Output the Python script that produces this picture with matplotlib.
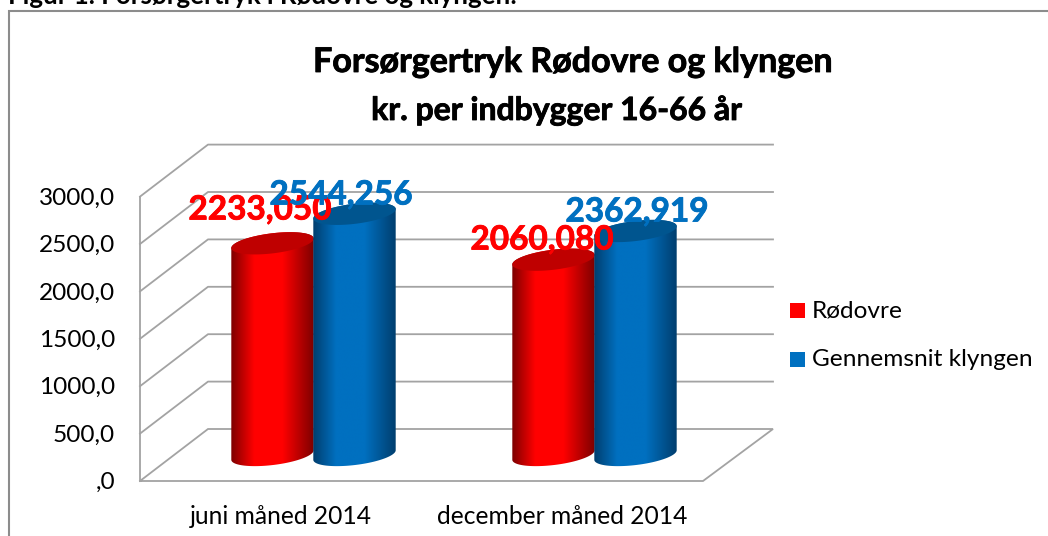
import numpy as np
import matplotlib
matplotlib.use("Agg")
import matplotlib.pyplot as plt
import matplotlib.patheffects as pe
from matplotlib.patches import Polygon, Rectangle

categories = ["juni måned 2014", "december måned 2014"]
series_names = ["Rødovre", "Gennemsnit klyngen"]
rodovre = [2233.050, 2060.080]
klyngen = [2544.256, 2362.919]
value_labels_r = ["2233,050", "2060,080"]
value_labels_k = ["2544,256", "2362,919"]
y_ticks = [0, 500, 1000, 1500, 2000, 2500, 3000]
y_tick_labels = [",0", "500,0", "1000,0", "1500,0", "2000,0", "2500,0", "3000,0"]
title_lines = ["Forsørgertryk Rødovre og klyngen", "kr. per indbygger 16-66 år"]
caption = "Figur 1. Forsørgertryk i Rødovre og klyngen:"

W, H = 1048, 536
plt.rcParams["font.family"] = ["Lato", "DejaVu Sans"]
fig = plt.figure(figsize=(W / 100, H / 100), dpi=100)
ax = fig.add_axes([0, 0, 1, 1])
ax.axis("off")

PX_Y0, PX_PER_VAL = 481.0, 0.0948
PX_X0, PX_PER_CAT = 314.0, 281.0
XLIM = (-PX_X0 / PX_PER_CAT, (W - PX_X0) / PX_PER_CAT)
YLIM = (-(H - PX_Y0) / PX_PER_VAL, PX_Y0 / PX_PER_VAL)
ax.set_xlim(*XLIM)
ax.set_ylim(*YLIM)

GRID = "#a3a3a3"
px = lambda p: (p - PX_X0) / PX_PER_CAT
py = lambda p: (PX_Y0 - p) / PX_PER_VAL


def heavy(color, w=0.6):
    return [pe.withStroke(linewidth=w, foreground=color)]


# frame (top and left edges only) and caption
ax.plot([px(9.5), px(9.5), px(1048)], [py(536), py(11), py(11)], color="#8c8c8c", lw=1.5, zorder=0,
        solid_joinstyle="miter")
ax.text(px(8), py(4), caption, fontsize=18.6, fontweight="bold", color="black", va="baseline", ha="left")

# 3D walls
xf0, xf1 = px(140), px(703)
xb0, xb1 = px(208), px(773)
depth_val = 52 / PX_PER_VAL
ax.plot([xf0, xf1, xb1, xb0, xf0], [0, 0, depth_val, depth_val, 0], color=GRID, lw=1.3, zorder=1,
        solid_joinstyle="miter")
ax.plot([xf0, xf0], [0, 3000], color=GRID, lw=1.3, zorder=1)
for v in y_ticks[1:]:
    ax.plot([xf0, xb0, xb1], [v, v + depth_val, v + depth_val], color=GRID, lw=1.3, zorder=1)

for v, lab in zip(y_ticks, y_tick_labels):
    ax.text(px(115), v - 1.5 / PX_PER_VAL, lab, ha="right", va="center", fontsize=17.6, color="black")

# cylinders
BAR_W = 83.0 / PX_PER_CAT
A, B, TILT = 41.5, 10.0, np.deg2rad(7)
BASE_DEPTH = 26.0 / PX_PER_VAL


def ellipse(xc, v, t):
    dx = A * np.cos(t) * np.cos(TILT) - B * np.sin(t) * np.sin(TILT)
    dy = A * np.cos(t) * np.sin(TILT) + B * np.sin(t) * np.cos(TILT)
    return xc + dx / PX_PER_CAT, v + dy / PX_PER_VAL


def gradient(edge, mid):
    stops = np.array([0, .28, .62, 1.0])
    cols = np.array([edge, mid, mid, edge], dtype=float) / 255
    s = np.linspace(0, 1, 256)
    return np.stack([np.interp(s, stops, cols[:, i]) for i in range(3)], axis=-1)[None, :, :]


def cylinder(xc, value, edge, mid, top, z):
    base = BASE_DEPTH
    head = base + value
    xt, yt = ellipse(xc, head, np.linspace(0, np.pi, 60))
    xb, yb = ellipse(xc, base, np.linspace(np.pi, 2 * np.pi, 60))
    verts = np.column_stack([np.r_[xt, xb], np.r_[yt, yb]])
    clip = Polygon(verts, closed=True, transform=ax.transData, fc="none", ec="none")
    ax.add_patch(clip)
    im = ax.imshow(gradient(edge, mid), extent=(xc - BAR_W / 2, xc + BAR_W / 2, base - 200, head + 200),
                   aspect="auto", zorder=z, interpolation="bilinear")
    im.set_clip_path(clip)
    xe, ye = ellipse(xc, head, np.linspace(0, 2 * np.pi, 120))
    ax.add_patch(Polygon(np.column_stack([xe, ye]), closed=True, fc=top, ec="none", zorder=z + 0.1))


RED_OFF, BLUE_OFF = -41.5 / PX_PER_CAT, 41.5 / PX_PER_CAT
for i in range(len(categories)):
    cylinder(i + RED_OFF, rodovre[i], (125, 0, 0), (255, 0, 0), "#bf0000", 3)
    cylinder(i + BLUE_OFF - 1 / PX_PER_CAT, klyngen[i], (0, 62, 110), (0, 112, 192), "#00558f", 4)
    ax.text(i - 33 / PX_PER_CAT, py(517), categories[i], ha="center", va="center", fontsize=17.7,
            color="black", zorder=6)

ax.set_xlim(*XLIM)
ax.set_ylim(*YLIM)

# data labels
lab_r = [(260, 210), (542, 240)]
lab_k = [(341, 195), (637, 212)]
for i in range(2):
    ax.text(px(lab_r[i][0]), py(lab_r[i][1]), value_labels_r[i], color="#ff0000", fontsize=24, fontweight="bold",
            ha="center", va="center", zorder=7, path_effects=heavy("#ff0000"))
    ax.text(px(lab_k[i][0]), py(lab_k[i][1]), value_labels_k[i], color="#0070c0", fontsize=24, fontweight="bold",
            ha="center", va="center", zorder=8, path_effects=heavy("#0070c0"))

# title
for line, xc, yc, fs in zip(title_lines, [573, 557], [62, 110], [24.5, 23]):
    ax.text(px(xc), py(yc), line, ha="center", va="center", fontsize=fs, fontweight="bold",
            color="black", zorder=9, path_effects=heavy("black"))

# legend
for name, col, yp in zip(series_names, ["#ff0000", "#0070c0"], [311, 360]):
    ax.add_patch(Rectangle((px(790), py(yp + 7)), 15 / PX_PER_CAT, 15 / PX_PER_VAL, fc=col, ec="none", zorder=5))
    ax.text(px(812), py(yp - 0.5), name, ha="left", va="center", fontsize=17.6, color="black", zorder=6)

fig.savefig("out.png", dpi=100)
